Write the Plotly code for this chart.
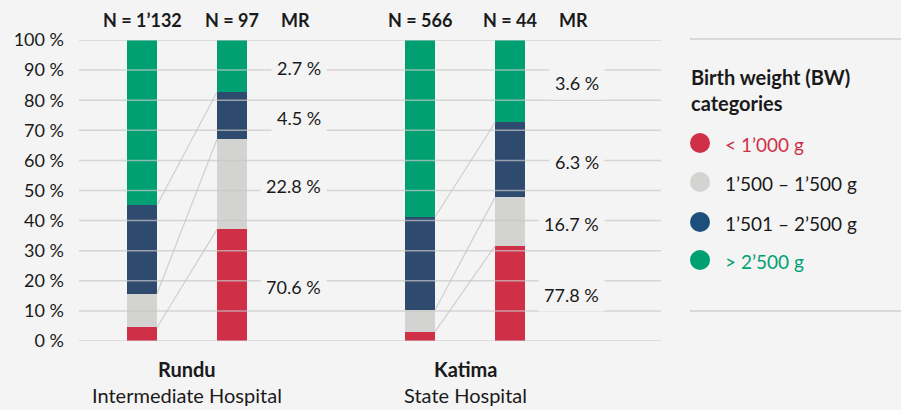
import plotly.graph_objects as go

# ---------------- data ----------------
hospitals = ["Rundu", "Katima"]
hospital_types = ["Intermediate Hospital", "State Hospital"]
n_all = ["1’132", "566"]
n_dead = ["97", "44"]
categories = ["< 1’000 g", "1’500 – 1’500 g", "1’501 – 2’500 g", "> 2’500 g"]
colors = ["#cf3048", "#d3d3d1", "#2e4a6e", "#00a073"]
legend_marker_colors = ["#cf3048", "#d3d3d1", "#1d4f7c", "#00a073"]
legend_text_colors = ["#cf3048", "#1a1a1a", "#1a1a1a", "#00a073"]

# share (%) of births per BW category (order = categories)
rundu_all = [4.5, 11.2, 29.4, 54.9]
rundu_dead = [37.1, 29.9, 15.7, 17.3]
katima_all = [3.1, 7.2, 30.9, 58.8]
katima_dead = [31.6, 16.2, 24.8, 27.4]
# mortality rate (%) per BW category
rundu_mr = [70.6, 22.8, 4.5, 2.7]
katima_mr = [77.8, 16.7, 6.3, 3.6]

y_ticks = [0, 10, 20, 30, 40, 50, 60, 70, 80, 90, 100]

# ---------------- layout constants ----------------
W, H = 901, 410
ML, MR_, MT, MB = 79, 240, 40, 69
PW, PH = W - ML - MR_, H - MT - MB
FONT = "Lato"
TXT = "#1a1a1a"
BG = "#f4f4f4"

group_pos = [0.0, 3.09]
dead_off = 1.0
bw = 0.333


def px_x(px):
    return (px - ML) / PW


def px_y(py):
    return (H - MB - py) / PH


all_data = [rundu_all, katima_all]
dead_data = [rundu_dead, katima_dead]
mr_data = [rundu_mr, katima_mr]

fig = go.Figure()

# stacked bars
for c, cat in enumerate(categories):
    xs, ys = [], []
    for h in range(len(hospitals)):
        xs += [group_pos[h], group_pos[h] + dead_off]
        ys += [all_data[h][c], dead_data[h][c]]
    fig.add_trace(go.Bar(x=xs, y=ys, width=bw, marker=dict(color=colors[c], line=dict(width=0)),
                         name=cat, showlegend=False, hoverinfo="skip"))


def cum(vals):
    out, s = [], 0
    for v in vals:
        s += v
        out.append(s)
    return out


# connector lines
cx, cy = [], []
for h in range(len(hospitals)):
    ca, cd = cum(all_data[h]), cum(dead_data[h])
    for c in range(len(categories) - 1):
        cx += [group_pos[h] + bw / 2, group_pos[h] + dead_off - bw / 2, None]
        cy += [ca[c], cd[c], None]
fig.add_trace(go.Scatter(x=cx, y=cy, mode="lines", line=dict(color="#cfcfcf", width=1.2),
                         showlegend=False, hoverinfo="skip", cliponaxis=False))

shapes = []
# gridlines drawn above bars
for t in y_ticks:
    shapes.append(dict(type="line", xref="paper", yref="y", x0=0, x1=1, y0=t, y1=t,
                       line=dict(color="rgba(200,200,200,0.7)", width=1.5), layer="above"))

annotations = []
# MR labels
for h in range(len(hospitals)):
    cd = cum(dead_data[h])
    prev = 0
    for c in range(len(categories)):
        mid = (prev + cd[c]) / 2
        prev = cd[c]
        annotations.append(dict(x=group_pos[h] + dead_off + 1.0, y=mid, xref="x", yref="y",
                                text=f"{mr_data[h][c]:.1f} %", showarrow=False, xanchor="right",
                                yanchor="middle", xshift=5, yshift=-2, bgcolor=BG, borderpad=5,
                                font=dict(family=FONT, size=18, color=TXT)))
    # headers
    hy = px_y(20)
    for xv, txt in [(group_pos[h], f"<b>N = {n_all[h]}</b>"),
                    (group_pos[h] + dead_off, f"<b>N = {n_dead[h]}</b>"),
                    (group_pos[h] + dead_off + 0.71, "<b>MR</b>")]:
        annotations.append(dict(x=xv, y=hy, xref="x", yref="paper", text=txt, showarrow=False,
                                xanchor="center", yanchor="middle",
                                font=dict(family=FONT, size=18, color=TXT)))
    # category labels
    annotations.append(dict(x=group_pos[h] + dead_off / 2, y=px_y(369), xref="x", yref="paper",
                            text=f"<b>{hospitals[h]}</b>", showarrow=False, xanchor="center",
                            yanchor="middle", font=dict(family=FONT, size=20, color=TXT)))
    annotations.append(dict(x=group_pos[h] + dead_off / 2, y=px_y(395), xref="x", yref="paper",
                            text=hospital_types[h], showarrow=False, xanchor="center",
                            yanchor="middle", font=dict(family=FONT, size=20, color=TXT)))

# manual legend
for txt, py in [("<b>Birth weight (BW)</b>", 77), ("<b>categories</b>", 103)]:
    annotations.append(dict(x=px_x(689), y=px_y(py), xref="paper", yref="paper", xanchor="left",
                            yanchor="middle", text=txt, showarrow=False,
                            font=dict(family=FONT, size=20, color=TXT)))
leg_y = [143, 182, 222, 260]
for c, cat in enumerate(categories):
    shapes.append(dict(type="circle", xref="paper", yref="paper", xsizemode="pixel", ysizemode="pixel",
                       xanchor=px_x(700), yanchor=px_y(leg_y[c]), x0=-10, x1=10, y0=-10, y1=10,
                       fillcolor=legend_marker_colors[c], line=dict(width=0)))
    annotations.append(dict(x=px_x(723), y=px_y(leg_y[c] + 1), xref="paper", yref="paper",
                            xanchor="left", yanchor="middle", text=cat, showarrow=False,
                            font=dict(family=FONT, size=19, color=legend_text_colors[c])))
for ly in [39, 311]:
    shapes.append(dict(type="line", xref="paper", yref="paper", x0=px_x(690), x1=px_x(901),
                       y0=px_y(ly), y1=px_y(ly), line=dict(color="#d0d0d0", width=1.5)))

fig.update_layout(
    template="none",
    width=W, height=H,
    margin=dict(l=ML, r=MR_, t=MT, b=MB, autoexpand=False),
    paper_bgcolor=BG, plot_bgcolor=BG,
    barmode="stack", bargap=0,
    shapes=shapes, annotations=annotations,
    showlegend=False,
    font=dict(family=FONT, size=17, color=TXT),
    xaxis=dict(range=[-0.7, 5.767], showgrid=False, zeroline=False, showticklabels=False,
               showline=False, ticks="", fixedrange=True),
    yaxis=dict(range=[0, 100], tickvals=y_ticks, ticktext=[f"{t} %" for t in y_ticks],
               showgrid=False, zeroline=False, showline=False, ticks="", ticklabelstandoff=14,
               tickfont=dict(family=FONT, size=18, color=TXT), fixedrange=True),
)

fig.write_html("out.html", config={"displayModeBar": False},
               post_script="document.body.style.margin='0';document.body.style.background='#f4f4f4';")
